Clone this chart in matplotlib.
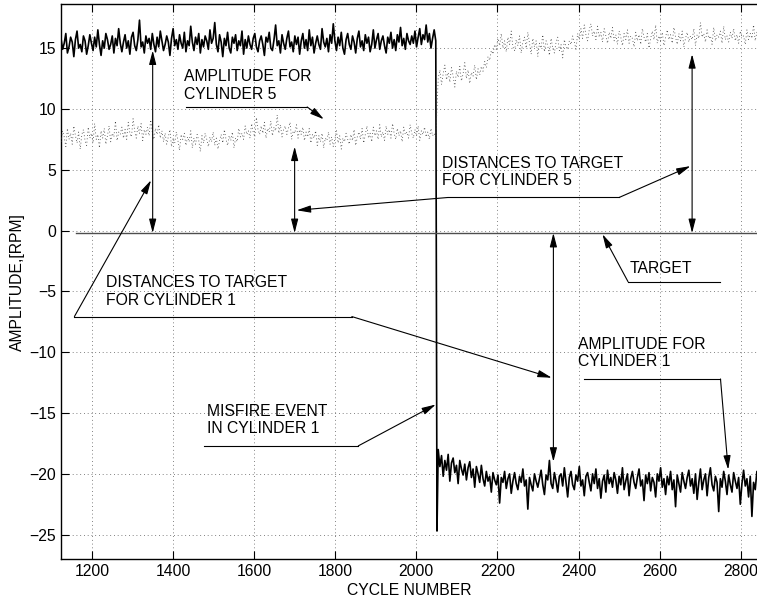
import numpy as np
import matplotlib.pyplot as plt

plt.rcParams['font.family'] = ['Liberation Sans', 'DejaVu Sans']

# amplitude of cylinder 1 (one value about every 4 cycles)
cyl1_before = [
    15.8, 14.9, 15.4, 16.2, 14.6, 15.1, 15.9, 15.5, 14.3, 15.7, 16.4, 15.0, 15.3, 14.7, 16.0, 15.6, 14.5, 15.2, 16.1, 15.4,
    14.8, 15.9, 15.1, 16.5, 15.3, 14.4, 15.6, 15.0, 16.2, 15.7, 14.9, 15.3, 16.0, 14.6, 15.8, 15.2, 16.6, 15.4, 14.7, 15.5,
    16.1, 15.0, 15.6, 14.5, 15.9, 16.3, 15.2, 14.8, 15.7, 17.3, 15.1, 15.5, 14.6, 16.0, 15.4, 15.8, 14.9, 16.2, 15.3, 14.7,
    15.9, 15.1, 16.4, 15.6, 14.8, 15.3, 16.0, 15.5, 14.4, 15.8, 16.6, 15.2, 15.7, 14.9, 16.1, 15.4, 15.0, 16.3, 14.7, 15.6,
    15.2, 16.8, 15.5, 14.8, 15.9, 15.3, 16.2, 14.6, 15.7, 15.1, 16.0, 15.6, 14.9, 16.5, 15.4, 15.8, 17.1, 15.3, 14.7, 16.1,
    15.5, 14.3, 15.8, 15.2, 16.3, 15.0, 14.6, 15.9, 15.4, 16.1, 14.8, 15.6, 15.2, 16.4, 14.5, 15.7, 15.0, 16.0, 15.3, 14.9,
    15.8, 16.2, 15.1, 14.7, 15.6, 16.0, 15.3, 14.4, 15.9, 15.5, 16.3, 15.0, 14.8, 15.7, 16.9, 15.2, 15.6, 14.6, 16.1, 15.4,
    14.9, 15.8, 16.4, 15.1, 15.5, 14.7, 16.0, 15.3, 15.9, 14.5, 15.6, 16.2, 15.0, 15.7, 14.8, 16.5, 15.2, 15.9, 14.6, 15.4,
    16.0, 15.3, 14.9, 16.6, 15.5, 15.1, 15.8, 14.7, 16.1, 15.4, 17.0, 15.6, 14.8, 15.9, 15.2, 16.3, 15.0, 14.5, 15.7, 16.2,
    15.3, 14.9, 16.0, 15.5, 14.6, 15.8, 16.4, 15.1, 15.6, 14.8, 16.1, 15.4, 15.9, 14.7, 15.3, 16.5, 15.0, 15.7, 16.2, 14.9,
    15.6, 16.0, 15.2, 14.6, 15.9, 15.4, 16.3, 15.0, 15.7, 14.8, 16.1, 15.5, 16.7, 15.2, 15.8, 14.9, 16.2, 15.6, 15.3, 16.0,
    15.4, 16.4, 15.1, 15.9, 16.6, 15.3, 16.1, 15.7, 16.9, 15.5, 16.2, 15.0, 15.8, 16.5, 15.6,
]
misfire_cycle = 2051
misfire_value = -24.7
cyl1_after = [
    -18.0, -19.4, -18.5, -20.2, -18.9, -19.7, -18.4, -20.6, -19.1, -18.7, -19.9, -19.3, -20.8, -18.9, -19.6, -20.1, -19.2, -20.5, -19.5, -19.0,
    -20.3, -19.6, -21.1, -19.4, -20.0, -20.7, -19.3, -20.4, -21.0, -19.8, -20.6, -20.2, -21.5, -19.9, -20.5, -20.9, -20.1, -22.4, -20.3, -20.7,
    -19.8, -21.2, -20.4, -20.0, -21.6, -20.6, -19.9, -20.8, -21.3, -20.2, -20.7, -19.6, -21.0, -20.5, -22.9, -20.3, -20.9, -21.4, -20.0, -20.6,
    -21.1, -20.4, -19.7, -20.9, -21.7, -20.1, -20.5, -18.9, -20.8, -21.2, -19.9, -20.6, -21.5, -20.2, -20.0, -21.0, -19.5, -20.7, -21.9, -20.3,
    -19.8, -20.9, -21.3, -20.1, -20.6, -19.4, -21.0, -20.5, -21.8, -20.2, -19.9, -20.7, -21.4, -20.0, -20.8, -19.6, -21.2, -20.4, -22.0, -20.6,
    -20.1, -21.5, -19.7, -20.8, -20.3, -21.1, -19.9, -20.5, -21.6, -20.2, -20.9, -19.5, -21.3, -20.6, -20.0, -21.8, -20.4, -19.8, -20.7, -21.2,
    -20.3, -19.6, -21.0, -20.5, -22.2, -20.1, -20.8, -19.9, -21.4, -20.3, -20.7, -21.9, -20.0, -20.6, -19.5, -21.1, -20.4, -21.7, -20.2, -20.9,
    -19.8, -21.3, -20.5, -22.7, -20.1, -20.8, -21.5, -19.9, -20.6, -21.2, -20.3, -19.7, -21.0, -20.4, -21.6, -20.0, -22.1, -20.7, -19.6, -21.3,
    -20.5, -20.0, -21.8, -20.3, -19.5, -20.9, -21.4, -20.2, -20.7, -23.1, -20.4, -21.1, -19.8, -20.6, -21.7, -20.1, -20.9, -21.5, -19.9, -20.6,
    -21.2, -20.3, -22.5, -20.8, -19.7, -21.0, -20.4, -21.9, -20.2, -23.5, -20.7, -21.3, -19.8, -20.9, -21.6, -20.5,
]

# amplitude of cylinder 5
cyl5_before = [
    7.3, 8.2, 7.7, 6.9, 8.4, 7.5, 8.0, 7.1, 8.6, 7.8, 7.2, 8.1, 6.7, 7.9, 8.3, 7.4, 7.0, 8.5, 7.6, 8.0,
    7.2, 8.8, 7.5, 7.9, 6.8, 8.2, 7.6, 8.4, 7.1, 7.8, 8.6, 7.3, 8.0, 7.7, 9.0, 7.4, 8.1, 7.9, 8.5, 7.6,
    8.3, 7.5, 8.9, 8.0, 7.7, 9.2, 8.2, 7.6, 8.6, 8.0, 8.8, 7.4, 8.3, 7.9, 8.5, 7.8, 9.1, 8.1, 7.5, 8.4,
    7.9, 8.7, 7.6, 8.2, 7.3, 8.0, 7.1, 7.7, 8.3, 6.9, 7.6, 7.2, 8.1, 7.4, 6.6, 7.9, 7.5, 8.0, 7.0, 7.7,
    7.3, 8.2, 6.8, 7.6, 7.1, 7.9, 7.4, 6.5, 7.8, 7.2, 8.0, 7.5, 6.9, 7.7, 7.3, 8.1, 7.0, 7.6, 6.7, 7.4,
    7.9, 7.2, 8.3, 7.5, 7.0, 7.8, 7.4, 8.1, 6.8, 7.6, 7.3, 8.4, 7.7, 8.0, 7.5, 8.6, 7.9, 8.2, 7.6, 8.8,
    8.1, 7.7, 9.3, 8.3, 7.9, 8.6, 8.0, 8.9, 7.6, 8.4, 8.1, 9.0, 7.8, 8.5, 8.2, 9.5, 8.0, 8.7, 7.7, 8.3,
    8.6, 7.9, 8.4, 8.9, 7.5, 8.2, 8.0, 8.7, 7.6, 8.3, 7.9, 8.5, 7.4, 8.1, 7.7, 8.4, 7.2, 7.9, 7.6, 8.2,
    7.0, 7.8, 7.3, 8.0, 6.8, 7.6, 7.4, 8.1, 7.1, 7.7, 6.9, 7.5, 8.2, 7.2, 7.8, 6.7, 7.6, 7.3, 8.0, 7.5,
    7.1, 7.9, 7.4, 8.3, 7.0, 7.7, 8.1, 7.5, 8.4, 7.2, 7.9, 8.6, 7.6, 8.0, 7.3, 8.5, 7.8, 8.2, 7.5, 8.7,
    7.7, 8.1, 7.4, 8.6, 7.9, 8.3, 7.6, 8.8, 8.0, 7.5, 8.4, 7.8, 8.2, 7.3, 8.5, 7.9, 8.1, 7.6, 8.7, 8.0,
    7.6, 8.3, 7.8, 8.6, 7.4, 8.2, 7.9, 8.5, 7.7, 8.1, 7.5, 8.4, 7.8, 8.0, 7.6,
]
cyl5_after = [
    12.5, 13.2, 12.0, 12.9, 13.6, 12.4, 13.0, 12.2, 13.4, 12.7, 11.8, 13.1, 12.6, 13.5, 12.3, 12.9, 13.8, 12.5, 13.2, 12.1,
    13.0, 12.7, 13.6, 12.4, 13.3, 12.8, 13.5, 13.1, 13.9, 13.4, 14.3, 14.0, 14.8, 14.5, 15.3, 14.9, 15.8, 15.2, 16.2, 15.0,
    15.6, 14.7, 15.9, 15.3, 16.4, 15.1, 14.8, 15.7, 15.2, 16.0, 14.6, 15.5, 15.9, 15.0, 16.3, 15.4, 14.5, 15.8, 15.1, 15.6,
    14.3, 15.4, 15.0, 16.1, 14.7, 15.6, 15.2, 14.4, 15.8, 15.0, 14.6, 15.5, 15.9, 14.8, 15.3, 14.2, 15.7, 15.1, 14.9, 15.6,
    15.3, 16.0, 15.5, 14.9, 16.2, 15.7, 16.6, 15.8, 16.9, 16.1, 15.6, 16.5, 17.0, 16.0, 16.4, 15.7, 16.8, 15.9, 16.3, 15.5,
    16.6, 16.0, 15.4, 16.3, 15.8, 16.7, 15.6, 16.1, 15.3, 16.4, 15.9, 15.2, 16.2, 15.7, 16.5, 15.4, 16.0, 15.8, 15.1, 16.3,
    15.6, 16.1, 15.3, 16.6, 15.9, 15.5, 16.2, 15.0, 15.8, 16.4, 15.7, 16.9, 15.4, 16.0, 15.6, 16.3, 15.2, 15.9, 16.5, 15.7,
    16.1, 15.4, 16.7, 15.9, 15.3, 16.2, 15.6, 16.4, 15.1, 15.8, 16.3, 15.5, 16.0, 15.7, 16.6, 15.2, 16.1, 15.8, 17.1, 15.9,
    16.2, 15.5, 16.5, 15.8, 16.0, 15.3, 16.7, 15.6, 16.1, 15.9, 16.4, 15.4, 16.8, 15.7, 16.0, 15.5, 16.3, 15.8, 16.6, 15.6,
    16.1, 15.4, 16.4, 15.9, 16.0, 15.3, 16.5, 15.7, 16.2, 15.8, 16.9, 15.6, 16.3, 15.9, 15.5, 16.1,
]

target_level = -0.2
x_ticks = [1200, 1400, 1600, 1800, 2000, 2200, 2400, 2600, 2800]
y_ticks = [-25, -20, -15, -10, -5, 0, 5, 10, 15]

# cycle numbers of the samples
cyc1_before = np.linspace(1124, 2048, len(cyl1_before))
cyc1_after = np.linspace(2054, 2852, len(cyl1_after))
cyc5_before = np.linspace(1124, 2048, len(cyl5_before))
cyc5_after = np.linspace(2054, 2852, len(cyl5_after))

fig = plt.figure(figsize=(7.57, 6.01), dpi=100)
ax = fig.add_axes([0.0806, 0.0699, 0.9194, 0.9229])

cx1 = np.concatenate([cyc1_before, [misfire_cycle], cyc1_after])
cy1 = np.concatenate([cyl1_before, [misfire_value], cyl1_after])
ax.plot(cx1, cy1, color='k', lw=1.2, zorder=3)

cx5 = np.concatenate([cyc5_before, cyc5_after])
cy5 = np.concatenate([cyl5_before, cyl5_after])
ax.plot(cx5, cy5, color='0.25', lw=0.6, linestyle=(0, (1, 3)), zorder=3)

# target line
ax.plot([1160, 2860], [target_level, target_level], color='0.3', lw=1.0, zorder=3)

ax.set_xlim(1124, 2840)
ax.set_ylim(-27, 18.6)
ax.set_xticks(x_ticks)
ax.set_yticks(y_ticks)
ax.set_yticklabels([str(v).replace('-', '\u2212') for v in y_ticks])
ax.tick_params(direction='in', length=6, width=0.8, labelsize=11.3, top=True, right=False)
ax.grid(True, color='0.35', linestyle=(0, (1, 3.5)), lw=0.6)
ax.spines['right'].set_visible(False)
for s in ['left', 'top', 'bottom']:
    ax.spines[s].set_linewidth(1.0)

ax.set_xlabel('CYCLE NUMBER', fontsize=11.3, labelpad=3)
ax.set_ylabel('AMPLITUDE,[RPM]', fontsize=11.3, labelpad=3)

ah = dict(arrowstyle='-|>,head_length=0.7,head_width=0.18', lw=0.8, color='k',
          shrinkA=0, shrinkB=0, mutation_scale=12)
dah = dict(arrowstyle='<|-|>,head_length=0.7,head_width=0.18', lw=0.8, color='k',
           shrinkA=0, shrinkB=0, mutation_scale=12)


def line(xs, ys):
    ax.plot(xs, ys, color='k', lw=0.8, zorder=4)


def arrow(x0, y0, x1, y1, props=ah):
    ax.annotate('', xy=(x1, y1), xytext=(x0, y0), arrowprops=props, zorder=4)


def label(x, y, s):
    ax.text(x, y, s, fontsize=11.3, va='baseline', ha='left', linespacing=1.2)


# amplitude for cylinder 5
label(1427, 10.85, 'AMPLITUDE FOR\nCYLINDER 5')
line([1432, 1731], [10.16, 10.16])
arrow(1731, 10.16, 1772, 9.15)

# distances to target for cylinder 5
arrow(1350, target_level, 1350, 14.8, dah)
arrow(1700, target_level, 1700, 6.9, dah)
arrow(2680, target_level, 2680, 14.5, dah)
label(2063, 3.73, 'DISTANCES TO TARGET\nFOR CYLINDER 5')
line([2078, 2500], [2.72, 2.72])
arrow(2078, 2.72, 1705, 1.67)
arrow(2500, 2.72, 2676, 5.3)

# target
label(2527, -3.51, 'TARGET')
line([2522, 2749], [-4.2, -4.2])
arrow(2522, -4.2, 2459, -0.3)

# distances to target for cylinder 1
arrow(2338, target_level, 2338, -19.0, dah)
label(1235, -6.1, 'DISTANCES TO TARGET\nFOR CYLINDER 1')
line([1157, 1841], [-7.07, -7.07])
arrow(1157, -7.07, 1346, 4.14)
arrow(1841, -7.07, 2334, -12.1)

# misfire event
label(1485, -16.64, 'MISFIRE EVENT\nIN CYLINDER 1')
line([1477, 1857], [-17.7, -17.7])
arrow(1857, -17.7, 2048, -14.3)

# amplitude for cylinder 1
label(2399, -11.17, 'AMPLITUDE FOR\nCYLINDER 1')
line([2414, 2750], [-12.2, -12.2])
arrow(2750, -12.2, 2769, -19.65)

fig.savefig('out.png', dpi=100)
